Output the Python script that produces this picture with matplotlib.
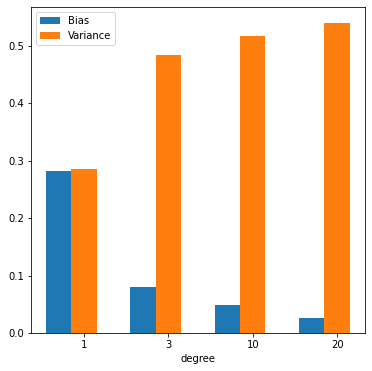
import matplotlib
matplotlib.use("Agg")
import matplotlib.pyplot as plt
import numpy as np

degrees = ["1", "3", "10", "20"]
bias = [0.282, 0.081, 0.048, 0.026]
variance = [0.285, 0.485, 0.518, 0.541]

x = np.arange(len(degrees))
width = 0.3

fig, ax = plt.subplots(figsize=(372 / 72, 371 / 72), dpi=72)
fig.subplots_adjust(left=0.0833, right=0.981, bottom=0.1024, top=0.981)

ax.bar(x - width, bias, width, label="Bias")
ax.bar(x, variance, width, label="Variance")
ax.set_xticks(x)
ax.set_xticklabels(degrees)
ax.set_xlabel("degree")
ax.legend(loc="upper left")

fig.savefig("out.png", dpi=72)
